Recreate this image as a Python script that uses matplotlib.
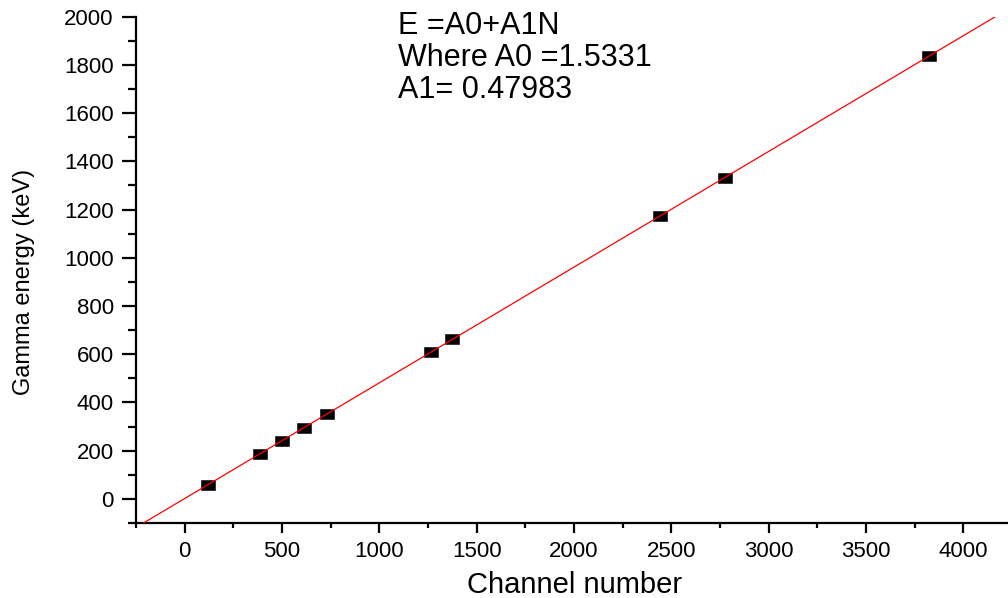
import numpy as np
import matplotlib
matplotlib.use("Agg")
import matplotlib.pyplot as plt

plt.rcParams["font.family"] = ["Liberation Sans", "DejaVu Sans"]

# calibration points: channel number vs gamma energy (keV)
channels = [121, 385, 501, 612, 730, 1267, 1376, 2442, 2774, 3823]
energies = [59.5, 186.2, 241.9, 295.2, 351.9, 609.3, 661.7, 1173.2, 1332.5, 1836.1]

# linear fit parameters
A0 = 1.5331
A1 = 0.47983

x_ticks = [0, 500, 1000, 1500, 2000, 2500, 3000, 3500, 4000]
y_ticks = [0, 200, 400, 600, 800, 1000, 1200, 1400, 1600, 1800, 2000]

fit_text = "E =A0+A1N\nWhere A0 =1.5331\nA1= 0.47983"

fig = plt.figure(figsize=(10.08, 5.98), dpi=100)
ax = fig.add_axes([0.1349, 0.1254, 0.8651, 0.8467])

# wide, flat square marker like the original export
rect = [(-1, -0.73), (1, -0.73), (1, 0.73), (-1, 0.73), (-1, -0.73)]
ax.plot(channels, energies, linestyle="none", marker=rect,
        markersize=9.4, color="black", markeredgewidth=0.4, zorder=2)

ax.axline((0, A0), slope=A1, color="#ff0000", linewidth=0.9, zorder=3)

ax.set_xlim(-250, 4230)
ax.set_ylim(-100, 2000)
ax.set_xticks(x_ticks)
ax.set_yticks(y_ticks)
ax.set_xticks(np.arange(-250, 4250, 500), minor=True)
ax.set_yticks(np.arange(-100, 2000, 200), minor=True)

for side in ["top", "right"]:
    ax.spines[side].set_visible(False)
for side in ["left", "bottom"]:
    ax.spines[side].set_linewidth(1.6)

ax.tick_params(axis="both", which="both", direction="out", width=1.6,
               labelsize=16)
ax.tick_params(axis="x", which="major", length=7.2, pad=6)
ax.tick_params(axis="x", which="minor", length=3.6)
ax.tick_params(axis="y", which="major", length=10, pad=6)
ax.tick_params(axis="y", which="minor", length=5.8)

ax.set_xlabel("Channel number", fontsize=21)
ax.xaxis.set_label_coords(0.503, -0.094)
ax.xaxis.label.set_va("top")
ax.set_ylabel("Gamma energy (keV)", fontsize=17)
ax.yaxis.set_label_coords(-0.116, 0.476)

ax.text(0.300, 0.840, fit_text, transform=ax.transAxes, ha="left",
        va="baseline", fontsize=22, linespacing=1.09)

fig.savefig("out.png", dpi=100)
plt.close(fig)
